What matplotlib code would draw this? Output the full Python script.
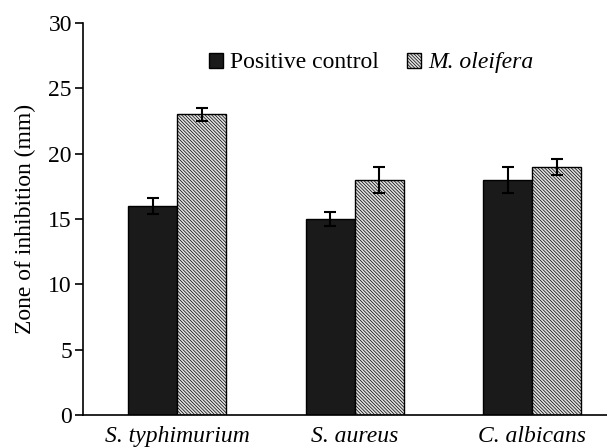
import numpy as np
import matplotlib
matplotlib.use('Agg')
import matplotlib.pyplot as plt

# data
organisms = ['S. typhimurium', 'S. aureus', 'C. albicans']
positive_control = [16, 15, 18]
positive_err = [0.6, 0.5, 1.0]
moringa = [23, 18, 19]
moringa_err = [0.5, 1.0, 0.6]
yticks = [0, 5, 10, 15, 20, 25, 30]

plt.rcParams['font.family'] = ['Liberation Serif', 'DejaVu Serif']
plt.rcParams['hatch.linewidth'] = 0.5
plt.rcParams['hatch.color'] = '#7a7a7a'

fig = plt.figure(figsize=(6.07, 4.47), dpi=100)
ax = fig.add_axes([83 / 607, 1 - 415 / 447, 1 - 83 / 607, (415 - 23) / 447])

x = np.arange(len(organisms))
w = 0.276
err_kw = dict(ecolor='black', elinewidth=1.5, capsize=4.5, capthick=1.5)
ax.bar(x - w / 2, positive_control, w, yerr=positive_err, color='#1a1a1a',
       edgecolor='black', linewidth=1, label='Positive control', error_kw=err_kw)
ax.bar(x + w / 2, moringa, w, yerr=moringa_err, color='#e0e0e0',
       edgecolor='black', linewidth=1, hatch='\\' * 10, label='M. oleifera', error_kw=err_kw)

ax.set_xlim(-0.53, 2.42)
ax.set_ylim(0, 30)
ax.set_yticks(yticks)
ax.set_xticks(x)
ax.set_xticklabels(organisms, fontstyle='italic', fontsize=17)
ax.tick_params(axis='x', length=0, pad=8)
ax.tick_params(axis='y', labelsize=17, length=6, width=1.2, direction='out', pad=2)
ax.set_ylabel('Zone of inhibition (mm)', fontsize=17, labelpad=9)
ax.spines['top'].set_visible(False)
ax.spines['right'].set_visible(False)
ax.spines['left'].set_linewidth(1.2)
ax.spines['bottom'].set_linewidth(1.2)

leg = ax.legend(loc='center', bbox_to_anchor=(0.55, 0.898), ncol=2, frameon=False,
                fontsize=17, handlelength=0.6, handleheight=0.6, handletextpad=0.3,
                columnspacing=1.2, borderpad=0)
leg.get_texts()[1].set_fontstyle('italic')

fig.savefig('out.png', dpi=100)
